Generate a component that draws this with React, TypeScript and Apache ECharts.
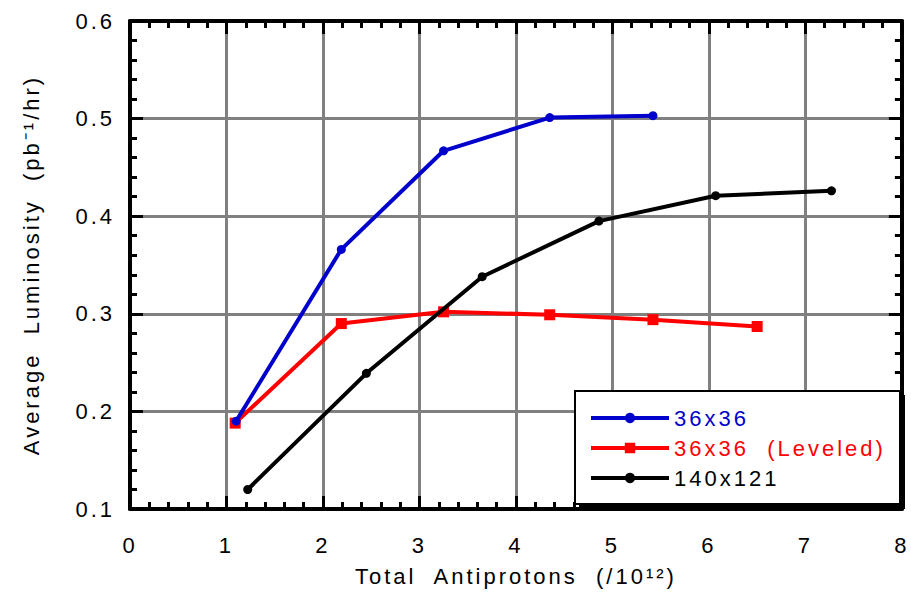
import React, { useEffect, useRef } from "react";
import * as echarts from "echarts";

const blueX = [1.1, 2.19, 3.25, 4.35, 5.42];
const blueY = [0.19, 0.366, 0.467, 0.501, 0.503];
const redX = [1.09, 2.19, 3.25, 4.35, 5.42, 6.5];
const redY = [0.188, 0.29, 0.302, 0.299, 0.294, 0.287];
const blackX = [1.22, 2.45, 3.65, 4.86, 6.07, 7.27];
const blackY = [0.12, 0.239, 0.338, 0.395, 0.421, 0.426];
const seriesNames = ["36x36", "36x36  (Leveled)", "140x121"];
const xTitle = "Total  Antiprotons  (/10¹²)";
const yTitle = "Average  Luminosity  (pb⁻¹/hr)";

const FONT = "Liberation Sans, Arial, sans-serif";
const FS = 22;

export default function App() {
  const ref = useRef<HTMLDivElement>(null);
  useEffect(() => {
    if (!ref.current) return;
    const chart = echarts.init(ref.current, undefined, { renderer: "svg" });
    const pair = (xs: number[], ys: number[]) => xs.map((x, i) => [x, ys[i]]);
    const tickCommon = {
      minorTick: { show: true, splitNumber: 5, length: 7, lineStyle: { color: "#000", width: 3 } },
      axisTick: { show: true, inside: true, length: 13, lineStyle: { color: "#000", width: 3 } },
      axisLine: { show: true, onZero: false, lineStyle: { color: "#000", width: 4 } },
      minorSplitLine: { show: false },
    };
    const baseX = { type: "value", min: 0, max: 8, interval: 1, ...tickCommon };
    const baseY = { type: "value", min: 0.1, max: 0.6, interval: 0.1, ...tickCommon };
    chart.setOption({
      animation: false,
      textStyle: { fontFamily: FONT },
      grid: { left: 130, right: 6, top: 21, bottom: 87, containLabel: false },
      xAxis: [
        {
          ...baseX,
          position: "bottom",
          splitLine: { show: true, lineStyle: { color: "#808080", width: 3 } },
          axisLabel: { color: "#000", fontSize: FS, margin: 25, fontFamily: FONT },
          name: xTitle,
          nameLocation: "middle",
          nameGap: 56,
          nameTextStyle: { color: "#000", fontSize: FS, fontFamily: FONT },
        },
        {
          ...baseX,
          position: "top",
          splitLine: { show: false },
          axisLabel: { show: false },
        },
      ],
      yAxis: [
        {
          ...baseY,
          position: "left",
          splitLine: { show: true, lineStyle: { color: "#808080", width: 3 } },
          axisLabel: { color: "#000", fontSize: FS, margin: 15, fontFamily: FONT, formatter: (v: number) => v.toFixed(1) },
          name: yTitle,
          nameLocation: "middle",
          nameGap: 88,
          nameTextStyle: { color: "#000", fontSize: FS, fontFamily: FONT },
        },
        {
          ...baseY,
          position: "right",
          splitLine: { show: false },
          axisLabel: { show: false },
        },
      ],
      legend: {
        orient: "vertical",
        left: 584,
        top: 401,
        itemWidth: 78,
        itemHeight: 13,
        itemGap: 6,
        z: 10,
        lineStyle: { width: 4 },
        data: [
          { name: seriesNames[0], textStyle: { color: "#0000cc" } },
          { name: seriesNames[1], textStyle: { color: "#ff0000" } },
          { name: seriesNames[2], textStyle: { color: "#000" } },
        ],
        textStyle: { fontSize: FS, fontFamily: FONT, lineHeight: 24 },
      },
      graphic: [
        { type: "rect", shape: { x: 579, y: 395, width: 326, height: 114 }, style: { fill: "#000" }, z: 5 },
        { type: "rect", shape: { x: 575, y: 391, width: 325, height: 113 }, style: { fill: "#fff", stroke: "#000", lineWidth: 2 }, z: 6 },
      ],
      series: [
        {
          name: seriesNames[0],
          type: "line",
          data: pair(blueX, blueY),
          color: "#0000cc",
          lineStyle: { width: 4 },
          symbol: "circle",
          symbolSize: 9,
          z: 3,
        },
        {
          name: seriesNames[1],
          type: "line",
          data: pair(redX, redY),
          color: "#ff0000",
          lineStyle: { width: 4 },
          symbol: "rect",
          symbolSize: 11,
          z: 2,
        },
        {
          name: seriesNames[2],
          type: "line",
          data: pair(blackX, blackY),
          color: "#000",
          lineStyle: { width: 4 },
          symbol: "circle",
          symbolSize: 9,
          z: 4,
        },
      ],
    });
    return () => chart.dispose();
  }, []);
  return (
    <>
      <style>{`.lumchart svg text { letter-spacing: 3px; }`}</style>
      <div className="lumchart" ref={ref} style={{ width: 911, height: 596, position: "absolute", left: 0, top: 0 }} />
    </>
  );
}
